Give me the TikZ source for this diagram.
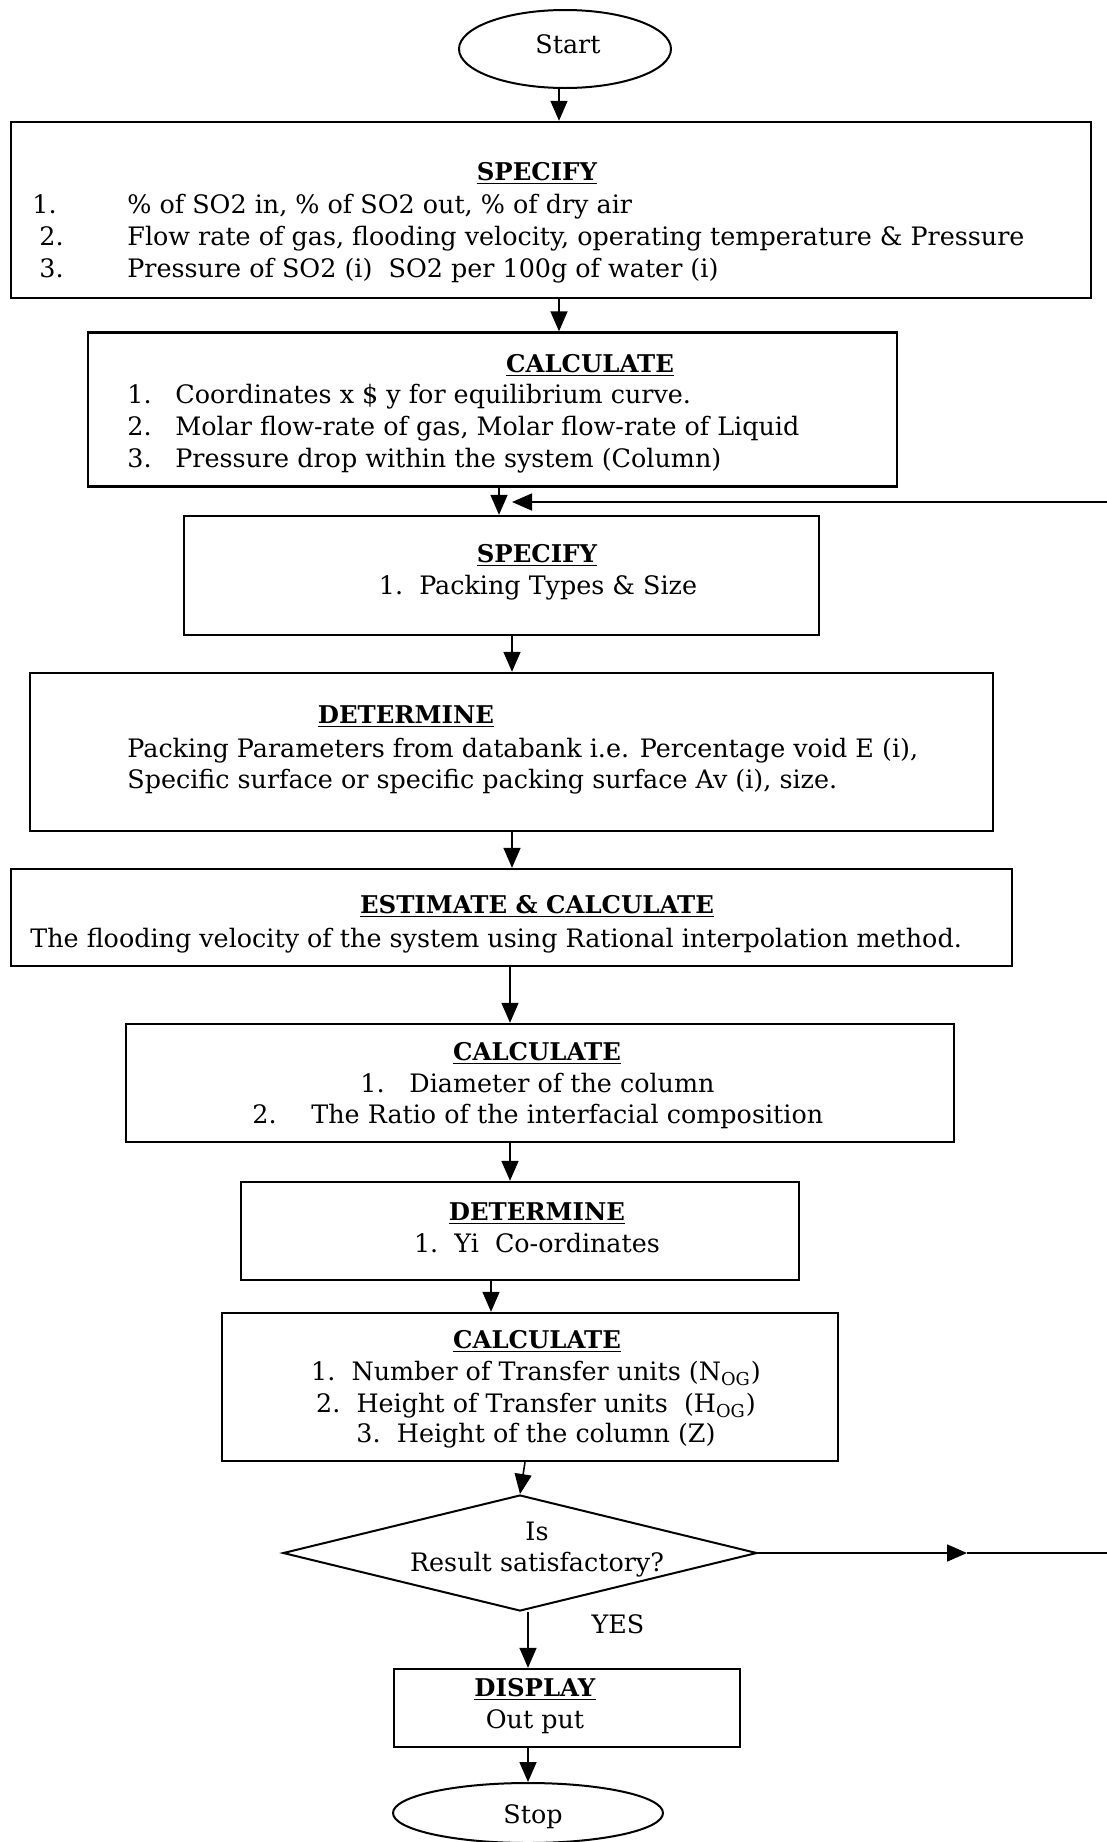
\documentclass[tikz,border=0pt]{standalone}
\usepackage{fontspec}
\setmainfont{DejaVu Serif}
\usetikzlibrary{shapes.geometric,arrows.meta}
\newcommand\fs{\fontsize{12.7pt}{15pt}\selectfont}
\newcommand\fst{\fontsize{12.2pt}{15pt}\selectfont}
\newcommand\ttlfmt[1]{\underline{\textbf{#1}}}
\begin{document}
\begin{tikzpicture}[x=0.5pt,y=-0.5pt,
  box/.style={draw, line width=1.2pt, inner sep=0pt, rectangle},
  lbl/.style={inner sep=0pt, anchor=mid west, font=\fs},
  ctr/.style={inner sep=0pt, anchor=mid, font=\fs},
  ttl/.style={inner sep=0pt, anchor=mid, font=\fst},
  arr/.style={line width=0.8pt, -{Triangle[length=10pt,width=8.5pt]}},
]
\useasboundingbox (0,0) rectangle (1107,1842);

% terminals
\node[draw, ellipse, line width=1pt, inner sep=0pt, minimum width=106pt, minimum height=39pt] (start) at (565,49) {};
\node[ctr] (tstart) at (568,48) {Start};

% box 1
\node[box, minimum width=540pt, minimum height=88pt] (spec1) at (551,210) {};
\node[ttl] (t1) at (537,175) {\ttlfmt{SPECIFY}};
\node[lbl] (n11) at (32,208) {1.};
\node[lbl] (l11) at (127,208) {\% of SO2 in, \% of SO2 out, \% of dry air};
\node[lbl] (n12) at (39,240) {2.};
\node[lbl] (l12) at (127,240) {Flow rate of gas, flooding velocity, operating temperature \& Pressure};
\node[lbl] (n13) at (39,272) {3.};
\node[lbl] (l13) at (127,272) {Pressure of SO2 (i)\ \ SO2 per 100g of water (i)};

% box 2
\node[box, minimum width=404.5pt, minimum height=77pt] (calc1) at (492.5,409.5) {};
\node[ttl] (t2) at (590,367) {\ttlfmt{CALCULATE}};
\node[lbl] (n21) at (127,398) {1.};
\node[lbl] (l21) at (175,398) {Coordinates x \$ y for equilibrium curve.};
\node[lbl] (n22) at (127,430) {2.};
\node[lbl] (l22) at (175,430) {Molar flow-rate of gas, Molar flow-rate of Liquid};
\node[lbl] (n23) at (127,462) {3.};
\node[lbl] (l23) at (175,462) {Pressure drop within the system (Column)};

% box 3
\node[box, minimum width=317.5pt, minimum height=59.5pt] (spec2) at (501.5,575.5) {};
\node[ttl] (t3) at (537,557) {\ttlfmt{SPECIFY}};
\node[ctr] (l31) at (538,589) {1.\ \ Packing Types \& Size};

% box 4
\node[box, minimum width=481.5pt, minimum height=79pt] (det1) at (511.5,752) {};
\node[ttl] (t4) at (406,718) {\ttlfmt{DETERMINE}};
\node[lbl] (l41) at (127,752) {Packing Parameters from databank i.e. Percentage void E (i),};
\node[lbl] (l42) at (127,783) {Specific surface or specific packing surface Av (i), size.};

% box 5
\node[box, minimum width=500.5pt, minimum height=48.5pt] (est) at (511.5,917.5) {};
\node[ttl] (t5) at (537,908) {\ttlfmt{ESTIMATE \& CALCULATE}};
\node[lbl] (l51) at (30,942) {The flooding velocity of the system using Rational interpolation method.};

% box 6
\node[box, minimum width=414pt, minimum height=59pt] (calc2) at (540,1083) {};
\node[ttl] (t6) at (537,1055) {\ttlfmt{CALCULATE}};
\node[lbl] (n61) at (360,1087) {1.};
\node[lbl] (l61) at (409,1087) {Diameter of the column};
\node[lbl] (n62) at (252,1118) {2.};
\node[lbl] (l62) at (311,1118) {The Ratio of the interfacial composition};

% box 7
\node[box, minimum width=279pt, minimum height=49pt] (det2) at (520,1231) {};
\node[ttl] (t7) at (537,1215) {\ttlfmt{DETERMINE}};
\node[ctr] (l71) at (537,1247) {1.\ \ Yi\ \ Co-ordinates};

% box 8
\node[box, minimum width=308pt, minimum height=74pt] (calc3) at (530,1387) {};
\node[ttl] (t8) at (537,1343) {\ttlfmt{CALCULATE}};
\node[ctr] (l81) at (536,1375) {1.\ \ Number of Transfer units (N\textsubscript{OG})};
\node[ctr] (l82) at (536,1407) {2.\ \ Height of Transfer units\ \ (H\textsubscript{OG})};
\node[ctr] (l83) at (536,1437) {3.\ \ Height of the column (Z)};

% decision
\node[draw, diamond, line width=1pt, inner sep=0pt, minimum width=237pt, minimum height=58pt] (dia) at (520,1553) {};
\node[ctr] (ld1) at (537,1535) {Is};
\node[ctr] (ld2) at (537,1566) {Result satisfactory?};
\node[ctr] (yes) at (618,1628) {YES};

% display
\node[box, minimum width=173pt, minimum height=39pt] (disp) at (567,1708) {};
\node[ttl] (t9) at (535,1691) {\ttlfmt{DISPLAY}};
\node[ctr] (l91) at (535,1723) {Out put};

\node[draw, ellipse, line width=1pt, inner sep=0pt, minimum width=135pt, minimum height=30pt] (stop) at (528,1813) {};
\node[ctr] (tstop) at (533,1818) {Stop};

% connectors
\draw[arr] (start.south -| 559,0) -- (spec1.north -| 559,0);
\draw[arr] (spec1.south -| 559,0) -- (calc1.north -| 559,0);
\draw[arr] (calc1.south -| 499,0) -- (spec2.north -| 499,0);
\draw[arr] (spec2.south -| 512,0) -- (det1.north -| 512,0);
\draw[arr] (det1.south -| 512,0) -- (est.north -| 512,0);
\draw[arr] (est.south -| 510,0) -- (calc2.north -| 510,0);
\draw[arr] (calc2.south -| 510,0) -- (det2.north -| 510,0);
\draw[arr] (det2.south -| 491,0) -- (calc3.north -| 491,0);
\draw[arr] (calc3.south -| 525,0) -- (dia.north);
\draw[arr] (dia.south -| 528,0) -- (disp.north -| 528,0);
\draw[arr] (disp.south -| 528,0) -- (stop.north -| 528,0);

% feedback loop (NO branch)
\coordinate (m1) at (967,1553);
\coordinate (r1) at (1125,1553);
\coordinate (r2) at (1125,502);
\coordinate (fb) at (512,502);
\draw[arr] (dia.east) -- (m1);
\draw[arr] (m1) -- (r1) -- (r2) -- (fb);
\end{tikzpicture}
\end{document}
